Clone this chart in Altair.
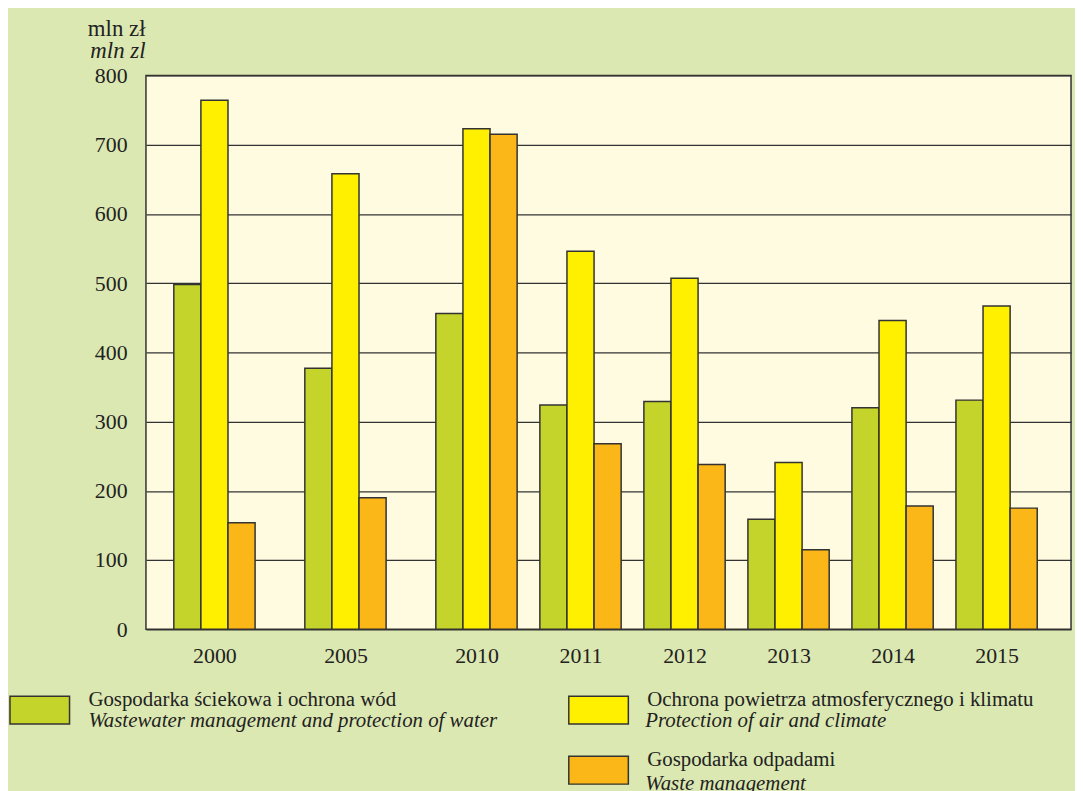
import altair as alt
import pandas as pd

years = [2000, 2005, 2010, 2011, 2012, 2013, 2014, 2015]
series_pl = [
    "Gospodarka ściekowa i ochrona wód",
    "Ochrona powietrza atmosferycznego i klimatu",
    "Gospodarka odpadami",
]
series_en = [
    "Wastewater management and protection of water",
    "Protection of air and climate",
    "Waste management",
]
water = [498, 377, 456, 324, 329, 159, 320, 331]
air = [764, 658, 723, 546, 507, 241, 446, 467]
waste = [154, 190, 715, 268, 238, 115, 178, 175]
unit_pl = "mln zł"
unit_en = "mln zl"
colors = ["#c4d42b", "#fff000", "#fbb617"]

BG = "#dce8b1"
PLOT = "#fefbe0"
INK = "#333333"
TXT = "#222222"
FONT = "Liberation Serif"

rows = []
for i, yr in enumerate(years):
    for s, en, vals in zip(series_pl, series_en, [water, air, waste]):
        rows.append({"year": yr, "series": s, "series_en": en, "value": vals[i]})
df = pd.DataFrame(rows)

# legend entries fill column by column: a blank slot puts the third entry in column 2
SP = " "
dom_pl = [series_pl[0], SP, series_pl[1], series_pl[2]]
dom_en = [series_en[0], SP, series_en[1], series_en[2]]

RECT = "M-1,-0.467H1V0.467H-1Z"

def legend_a():
    return alt.Legend(
        title=None, orient="none", legendX=-138, legendY=608, columns=2, direction="vertical",
        symbolType=RECT, symbolSize=3600, symbolStrokeWidth=1.5,
        labelFont=FONT, labelFontSize=21, labelColor=TXT, labelLimit=800,
        labelOffset=18, columnPadding=170, rowPadding=12, labelBaseline="bottom",
    )

legB = alt.Legend(
    title=None, orient="none", legendX=-138, legendY=608, columns=2, direction="vertical",
    symbolType=RECT, symbolSize=3600, symbolStrokeWidth=1.5, symbolOpacity=0,
    labelFont=FONT, labelFontSize=21, labelFontStyle="italic", labelColor=TXT,
    labelLimit=800, labelOffset=18, columnPadding=69, rowPadding=12, labelBaseline="top",
)

# the original spaces 2000, 2005 and 2010 wider apart than the later single years
x_enc = alt.X(
    "year:Q",
    scale=alt.Scale(domain=[1997.386, 2000, 2010, 2015, 2015.716],
                    range=[0, 69, 333, 857, 932], nice=False, zero=False),
    axis=alt.Axis(values=years, format="d", labelFont=FONT, labelFontSize=22, labelColor=TXT,
                  ticks=False, tickSize=0, domain=False, labelPadding=16, grid=False,
                  title=unit_en, titleFont=FONT, titleFontSize=23, titleFontWeight="normal",
                  titleFontStyle="italic", titleColor=TXT, titleAngle=0, titleAlign="right",
                  titleBaseline="alphabetic", titleX=-1, titleY=-576),
)
y_enc = alt.Y(
    "value:Q",
    scale=alt.Scale(domain=[0, 800], nice=False),
    axis=alt.Axis(values=list(range(0, 801, 100)), labelFont=FONT, labelFontSize=22,
                  labelColor=TXT, ticks=False, tickSize=0, domain=False,
                  labelPadding=19, gridColor=INK, gridWidth=1.3, gridOpacity=1,
                  title=unit_pl, titleFont=FONT, titleFontSize=23, titleFontWeight="normal",
                  titleColor=TXT, titleAngle=0, titleAlign="right",
                  titleBaseline="alphabetic", titleX=-1, titleY=-40),
)

color_enc = alt.Color("series:N", scale=alt.Scale(domain=dom_pl, range=[colors[0], "transparent", colors[1], colors[2]]), legend=legend_a())
stroke_enc = alt.Stroke("series:N", scale=alt.Scale(domain=dom_pl, range=[INK, "transparent", INK, INK]), legend=legend_a())

BAR_W = 27.3
layers = []
for k, s in enumerate(series_pl):
    layers.append(
        alt.Chart(df).transform_filter(alt.datum.series == s)
        .mark_bar(width=BAR_W, xOffset=(k - 1) * BAR_W, strokeWidth=1.5)
        .encode(x=x_enc, y=y_enc, color=color_enc, stroke=stroke_enc)
    )

hidden = alt.Chart(df).mark_bar(opacity=0, width=1).encode(
    x=x_enc,
    y=y_enc,
    fill=alt.Fill("series_en:N", scale=alt.Scale(domain=dom_en, range=["#000000", "#000000", "#000000", "#000000"]), legend=legB),
)

chart = alt.layer(*layers, hidden).properties(
    width=932, height=558,
    padding={"left": 139, "top": 65, "right": 4, "bottom": 160},
    autosize=alt.AutoSizeParams(type="none"),
    background=BG,
).configure_view(fill=PLOT, stroke=INK, strokeWidth=1.5)

chart.save("out.html", embed_options={"renderer": "svg", "actions": False})
